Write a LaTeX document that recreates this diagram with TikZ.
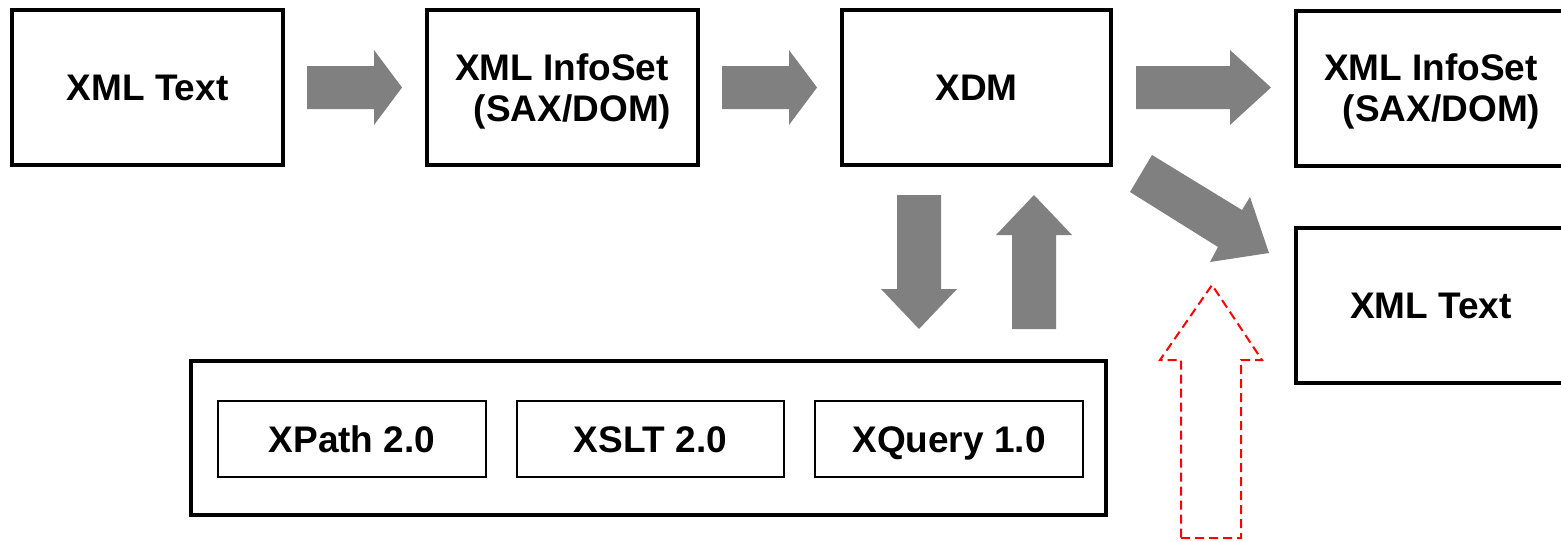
\documentclass[tikz,border=0pt]{standalone}
\usepackage{fontspec}
\setmainfont{Liberation Sans}
\begin{document}
\begin{tikzpicture}[x=1pt,y=-1pt,
  bigbox/.style={draw=black,line width=4pt,fill=white,inner sep=0pt,outer sep=0pt,
    minimum width=271pt,minimum height=155pt,align=center,
    font=\bfseries\fontsize{37}{41}\selectfont},
  smallbox/.style={draw=black,line width=2pt,inner sep=0pt,outer sep=0pt,
    minimum width=268pt,minimum height=76pt,text height=27pt,text depth=0pt,
    font=\bfseries\fontsize{37}{41}\selectfont},
  blockarrow/.style={fill=black!50,draw=none},
  dasharrow/.style={draw=red,line width=2pt,dash pattern=on 9pt off 5pt}]
\useasboundingbox (0,0) rectangle (1561,541);
\clip (0,0) rectangle (1561,541);
% boxes
\node[bigbox] (t1) at (147.5,87.5) {XML Text};
\node[bigbox,text depth=0pt] (t2) at (562,87.5) {XML InfoSet\\\hspace*{0.57em}(SAX/DOM)};
\node[bigbox,minimum width=269pt] (t3) at (976.5,87.5) {XDM};
\node[bigbox,minimum width=270pt,text depth=0pt] (t4) at (1431,88) {XML InfoSet\\\hspace*{0.57em}(SAX/DOM)};
\node[bigbox,minimum width=270pt] (t5) at (1431,305.5) {XML Text};
\node[bigbox,minimum width=915pt,minimum height=154pt] (proc) at (648.5,438) {};
\node[smallbox] (xp) at (352,439) {XPath 2.0};
\node[smallbox,minimum width=267pt] (xs) at (650.5,439) {XSLT 2.0};
\node[smallbox] (xq) at (949,439) {XQuery 1.0};
% block arrows
\fill[blockarrow] (307,66) -- (374,66) -- (374,50) -- (402,87.5) -- (374,125) -- (374,109) -- (307,109) -- cycle;
\fill[blockarrow] (722,66) -- (789,66) -- (789,50) -- (817,87.5) -- (789,125) -- (789,109) -- (722,109) -- cycle;
\fill[blockarrow] (1136,66) -- (1230,66) -- (1230,50) -- (1271,87.5) -- (1230,125) -- (1230,109) -- (1136,109) -- cycle;
\fill[blockarrow] (897,195) -- (941,195) -- (941,289) -- (957,289) -- (919,329) -- (881,289) -- (897,289) -- cycle;
\fill[blockarrow] (1012,329) -- (1056,329) -- (1056,235) -- (1072,235) -- (1034,195) -- (996,235) -- (1012,235) -- cycle;
\fill[blockarrow] (1152,155) -- (1242,210) -- (1250,197) -- (1269,253) -- (1210,262) -- (1218,247) -- (1130,192) -- cycle;
\draw[dasharrow] (1181,538) -- (1241,538) -- (1241,360) -- (1262,360) -- (1212,285) -- (1160,360) -- (1181,360) -- cycle;
\end{tikzpicture}
\end{document}
